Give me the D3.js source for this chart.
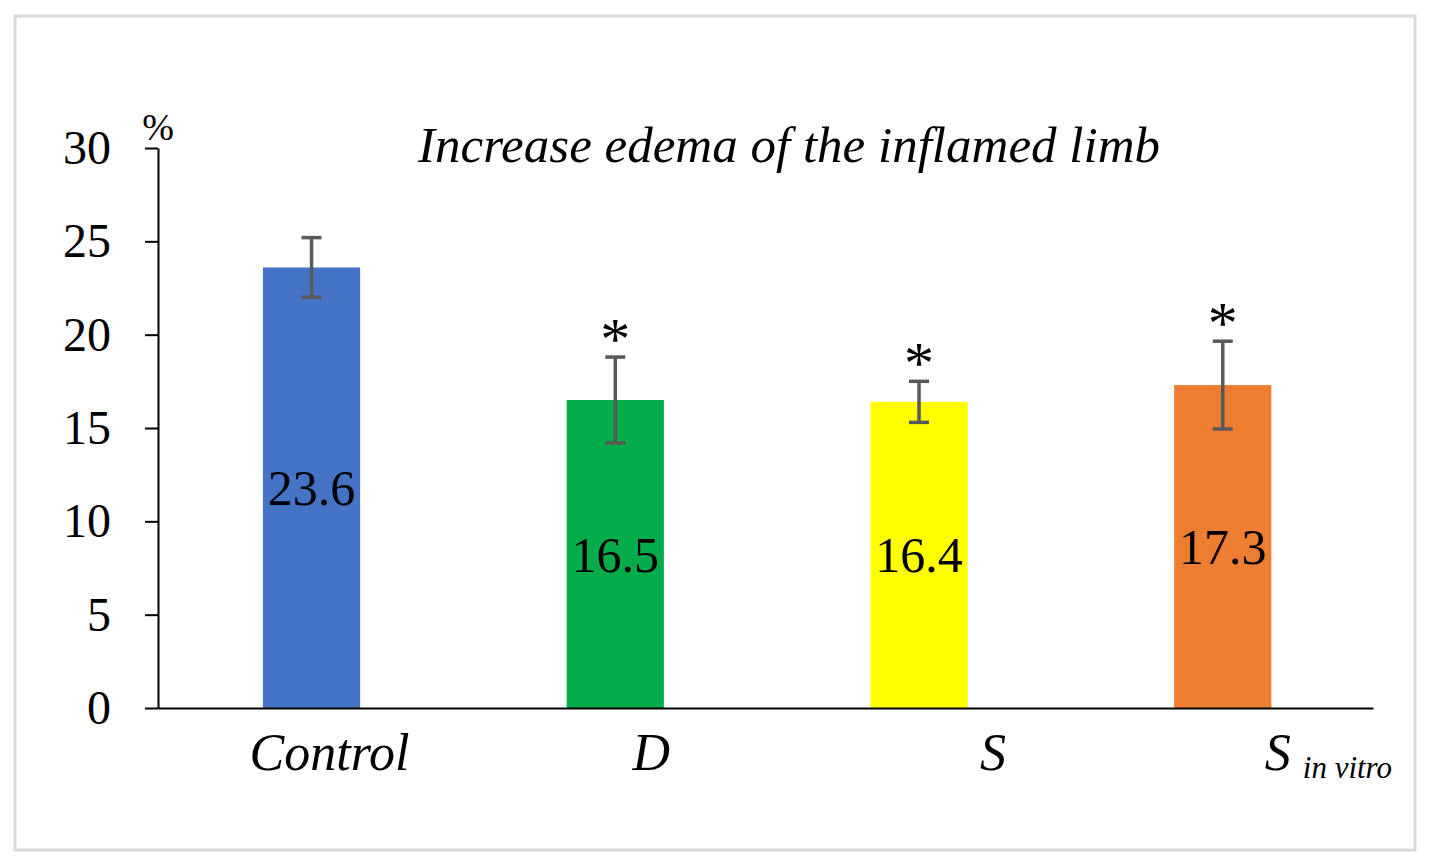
<!DOCTYPE html>
<html>
<head>
  <meta charset='utf-8'>
  <title>Increase edema of the inflamed limb</title>
  <script src="https://cdn.jsdelivr.net/npm/d3@7"></script>
  <style>
    html, body { margin: 0; padding: 0; background: #fff; }
    svg text { font-family: "Liberation Serif", "DejaVu Serif", serif; fill: #000; }
  </style>
</head>
<body>
<svg id="chart" width="1430" height="866"></svg>
<script>
// data
var groups = ['Control', 'D', 'S', 'S in vitro'];
var means = [23.6, 16.5, 16.4, 17.3];
var errors = [1.6, 2.3, 1.1, 2.35];
var marked = [false, true, true, true];
var yTicks = [0, 5, 10, 15, 20, 25, 30];
var barColors = ['#4472C4', '#05AC4C', '#FFFF00', '#ED7D31'];

var svg = d3.select('#chart');

// frame
svg.append('rect')
  .attr('x', 15).attr('y', 16)
  .attr('width', 1400).attr('height', 834)
  .attr('fill', '#fff')
  .attr('stroke', '#d9d9d9')
  .attr('stroke-width', 3);

var margin = {top: 148, left: 158, right: 57, bottom: 158};
var width = 1430 - margin.left - margin.right,
    height = 866 - margin.top - margin.bottom;

var g = svg.append('g')
  .attr('transform', 'translate(' + margin.left + ',' + margin.top + ')');

var x = d3.scaleBand()
  .domain(groups)
  .range([0, width])
  .paddingInner(0.68)
  .paddingOuter(0.34)
  .align(0.508);

var y = d3.scaleLinear()
  .domain([0, 30])
  .range([height, 0]);

// bars
g.selectAll('.bar')
  .data(groups)
  .enter().append('rect')
  .attr('class', 'bar')
  .attr('x', d => x(d))
  .attr('width', x.bandwidth())
  .attr('y', (d, i) => y(means[i]))
  .attr('height', (d, i) => height - y(means[i]))
  .attr('fill', (d, i) => barColors[i]);

// axes
var yAxis = g.append('g')
  .call(d3.axisLeft(y).tickValues(yTicks).tickSize(13).tickSizeOuter(0).tickPadding(34));
yAxis.selectAll('path, line').attr('stroke', '#000').attr('stroke-width', 2);
yAxis.selectAll('text')
  .attr('font-family', '"Liberation Serif", serif')
  .attr('font-size', 48)
  .attr('fill', '#000');

var xAxis = g.append('g')
  .attr('transform', 'translate(0,' + height + ')')
  .call(d3.axisBottom(x).tickSize(0).tickSizeOuter(0).tickFormat(''));
xAxis.select('path').attr('stroke', '#000').attr('stroke-width', 2);

// error bars
var err = g.selectAll('.err')
  .data(groups)
  .enter().append('g')
  .attr('class', 'err')
  .attr('stroke', '#595959')
  .attr('stroke-width', 3.5);

err.append('line')
  .attr('x1', d => x(d) + x.bandwidth() / 2)
  .attr('x2', d => x(d) + x.bandwidth() / 2)
  .attr('y1', (d, i) => y(means[i] - errors[i]))
  .attr('y2', (d, i) => y(means[i] + errors[i]));

err.selectAll('.cap')
  .data((d, i) => [means[i] - errors[i], means[i] + errors[i]].map(v => ({g: d, v: v})))
  .enter().append('line')
  .attr('x1', d => x(d.g) + x.bandwidth() / 2 - 10)
  .attr('x2', d => x(d.g) + x.bandwidth() / 2 + 10)
  .attr('y1', d => y(d.v))
  .attr('y2', d => y(d.v));

// value labels in the middle of the bars
g.selectAll('.val')
  .data(groups)
  .enter().append('text')
  .attr('class', 'val')
  .attr('x', d => x(d) + x.bandwidth() / 2)
  .attr('y', (d, i) => y(means[i] / 2))
  .attr('dy', '0.35em')
  .attr('text-anchor', 'middle')
  .attr('font-size', 50)
  .text((d, i) => means[i].toFixed(1));

// significance marks
g.selectAll('.star')
  .data(groups.filter((d, i) => marked[i]))
  .enter().append('text')
  .attr('class', 'star')
  .attr('x', d => x(d) + x.bandwidth() / 2)
  .attr('y', d => { var i = groups.indexOf(d); return y(means[i] + errors[i]) + 2; })
  .attr('text-anchor', 'middle')
  .attr('font-size', 60)
  .text('*');

// category labels (shifted like the original)
var labelShift = [18, 36, 74, 42];
var cat = g.selectAll('.cat')
  .data(groups)
  .enter().append('text')
  .attr('class', 'cat')
  .attr('x', (d, i) => x(d) + x.bandwidth() / 2 + labelShift[i])
  .attr('y', height + 62)
  .attr('text-anchor', 'middle')
  .attr('font-style', 'italic')
  .attr('font-size', 52);

cat.each(function (d) {
  var t = d3.select(this);
  if (d === 'S in vitro') {
    t.attr('text-anchor', 'start');
    t.append('tspan').text('S');
    t.append('tspan').attr('dx', 12).attr('dy', 8).attr('font-size', 31).text('in vitro');
  } else {
    t.text(d);
  }
});

// unit
g.append('text')
  .attr('x', 0)
  .attr('y', -8)
  .attr('text-anchor', 'middle')
  .attr('font-size', 38)
  .text('%');

// title
svg.append('text')
  .attr('x', 789)
  .attr('y', 162)
  .attr('text-anchor', 'middle')
  .attr('font-style', 'italic')
  .attr('font-size', 50)
  .attr('textLength', 742)
  .attr('lengthAdjust', 'spacingAndGlyphs')
  .text('Increase edema of the inflamed limb');
</script>
</body>
</html>
